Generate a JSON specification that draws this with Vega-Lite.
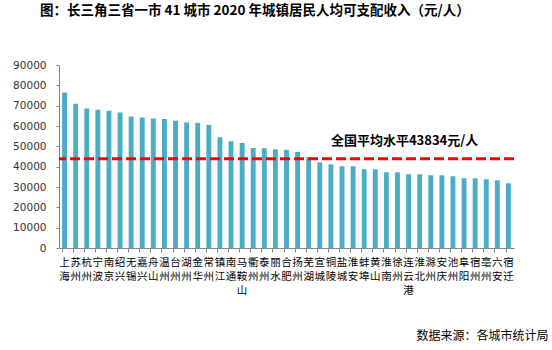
{
  "$schema": "https://vega.github.io/schema/vega-lite/v6.json",
  "autosize": {"type": "none"},
  "padding": {"left": 59, "top": 65, "right": 38, "bottom": 102},
  "width": 455,
  "height": 183,
  "background": "white",
  "title": {
    "text": "图：长三角三省一市 41 城市 2020 年城镇居民人均可支配收入（元/人）",
    "anchor": "start",
    "frame": "group",
    "dx": -19,
    "offset": 43,
    "font": "Noto Sans CJK SC",
    "fontSize": 13.5,
    "fontWeight": "bold",
    "color": "#000000"
  },
  "config": {
    "view": {"stroke": null},
    "axis": {"grid": false}
  },
  "encoding": {
    "y": {
      "field": "income",
      "type": "quantitative",
      "scale": {"domain": [0, 90000]},
      "axis": {
        "title": null,
        "values": [0, 10000, 20000, 30000, 40000, 50000, 60000, 70000, 80000, 90000],
        "format": "d",
        "labelOverlap": false,
        "labelFont": "DejaVu Sans",
        "labelFontSize": 10.5,
        "labelColor": "#333333",
        "labelPadding": 10,
        "tickSize": 3,
        "tickColor": "#868686",
        "domainColor": "#868686"
      }
    }
  },
  "layer": [
    {
      "data": {
        "values": [
          {"city": "上海", "income": 76437},
          {"city": "苏州", "income": 70966},
          {"city": "杭州", "income": 68666},
          {"city": "宁波", "income": 68008},
          {"city": "南京", "income": 67553},
          {"city": "绍兴", "income": 66694},
          {"city": "无锡", "income": 64714},
          {"city": "嘉兴", "income": 64124},
          {"city": "舟山", "income": 63702},
          {"city": "温州", "income": 63481},
          {"city": "台州", "income": 62598},
          {"city": "湖州", "income": 61743},
          {"city": "金华", "income": 61545},
          {"city": "常州", "income": 60529},
          {"city": "镇江", "income": 54421},
          {"city": "南通", "income": 52484},
          {"city": "马鞍山", "income": 51594},
          {"city": "衢州", "income": 49197},
          {"city": "泰州", "income": 49103},
          {"city": "丽水", "income": 48532},
          {"city": "合肥", "income": 48283},
          {"city": "扬州", "income": 47202},
          {"city": "芜湖", "income": 44649},
          {"city": "宣城", "income": 42100},
          {"city": "铜陵", "income": 41150},
          {"city": "盐城", "income": 40230},
          {"city": "淮安", "income": 40200},
          {"city": "蚌埠", "income": 38710},
          {"city": "黄山", "income": 38700},
          {"city": "淮南", "income": 37250},
          {"city": "徐州", "income": 37230},
          {"city": "连云港", "income": 36260},
          {"city": "淮北", "income": 36240},
          {"city": "滁州", "income": 35770},
          {"city": "安庆", "income": 35750},
          {"city": "池州", "income": 35280},
          {"city": "阜阳", "income": 34290},
          {"city": "宿州", "income": 34270},
          {"city": "亳州", "income": 33790},
          {"city": "六安", "income": 33300},
          {"city": "宿迁", "income": 31830}
        ]
      },
      "mark": {"type": "bar", "color": "#4BACC6"},
      "encoding": {
        "x": {
          "field": "city",
          "type": "nominal",
          "sort": null,
          "scale": {"paddingInner": 0.56},
          "axis": {
            "title": "数据来源：各城市统计局",
            "titleFont": "Noto Sans CJK SC",
            "titleFontSize": 12,
            "titleFontWeight": "normal",
            "titleColor": "#000000",
            "titleAnchor": "end",
            "titleAlign": "right",
            "titleBaseline": "middle",
            "titleX": 489,
            "titleY": 87,
            "labelAngle": 0,
            "labelExpr": "split(datum.label, '')",
            "labelFont": "Noto Sans CJK SC",
            "labelFontSize": 10.5,
            "labelLineHeight": 14,
            "labelColor": "#000000",
            "labelBaseline": "top",
            "labelPadding": 5,
            "labelOverlap": false,
            "labelBound": false,
            "labelFlush": false,
            "bandPosition": 0,
            "ticks": true,
            "tickSize": 4,
            "tickColor": "#868686",
            "domainColor": "#868686"
          }
        }
      }
    },
    {
      "data": {"values": [{"income": 43834, "label": "全国平均水平43834元/人"}]},
      "mark": {"type": "rule", "color": "#FF0000", "strokeWidth": 3, "strokeDash": [10, 4]},
      "encoding": {}
    },
    {
      "data": {"values": [{"income": 43834, "label": "全国平均水平43834元/人"}]},
      "mark": {"type": "text", "font": "Noto Sans CJK SC", "fontSize": 13, "fontWeight": "bold", "color": "#000000", "dy": -18, "dx": -4},
      "encoding": {
        "x": {"datum": "连云港", "type": "nominal"},
        "text": {"field": "label"}
      }
    }
  ]
}
